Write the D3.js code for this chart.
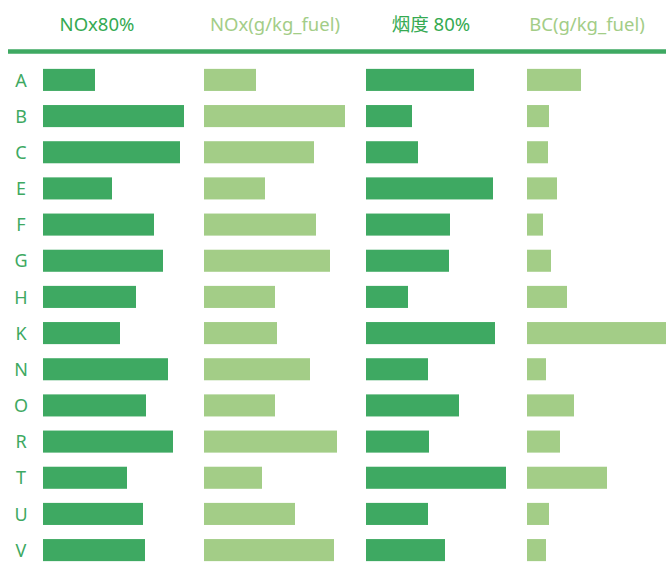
<!DOCTYPE html>
<html><head><meta charset="utf-8">
<script src="https://cdn.jsdelivr.net/npm/d3@7"></script>
<style>
html,body{margin:0;padding:0;background:#fff;}
svg{display:block;font-family:"Noto Sans","Noto Sans CJK SC",sans-serif;}
</style></head>
<body>
<svg id="chart" width="666" height="573"></svg>
<script>
// Categories (rows)
const categories = ["A","B","C","E","F","G","H","K","N","O","R","T","U","V"];
// Column headers
const headers = ["NOx80%","NOx(g/kg_fuel)","烟度 80%","BC(g/kg_fuel)"];
// Series values (relative units)
const nox80 = [52,141,137,69,111,120,93,77,125,103,130,84,100,102];
const noxFuel = [52,141,110,61,112,126,71,73,106,71,133,58,91,130];
const smoke80 = [108,46,52,127,84,83,42,129,62,93,63,140,62,79];
const bcFuel = [54,22,21,30,16,24,40,141,19,47,33,80,22,19];

const series = [nox80, noxFuel, smoke80, bcFuel];
const dark = "#3ea962", light = "#a3cd87";
const colColors = [dark, light, dark, light];
const headColors = ["#35aa52", light, "#35aa52", light];
const colX = [43, 204, 366, 527];
const headX = [97, 275, 431, 587];

const svg = d3.select("#chart");
const y = d3.scaleBand().domain(categories).range([62, 568]).paddingInner(0.39).paddingOuter(0.19);
const x = d3.scaleLinear().domain([0, 141]).range([0, 141]);

// headers
svg.selectAll("text.head").data(headers).join("text")
  .attr("class","head")
  .attr("x",(d,i)=>headX[i]).attr("y",31)
  .attr("text-anchor","middle")
  .attr("font-size",18.5)
  .attr("fill",(d,i)=>headColors[i])
  .text(d=>d);

// divider line
svg.append("line").attr("x1",8).attr("x2",666).attr("y1",51.5).attr("y2",51.5)
  .attr("stroke",dark).attr("stroke-width",4.5);

// row labels
svg.selectAll("text.row").data(categories).join("text")
  .attr("class","row")
  .attr("x",21).attr("y",d=>y(d)+y.bandwidth()/2)
  .attr("dy","0.37em")
  .attr("text-anchor","middle")
  .attr("font-size",18)
  .attr("fill",dark)
  .text(d=>d);

// bars
series.forEach((vals,ci)=>{
  svg.append("g").attr("transform",`translate(${colX[ci]},0)`)
    .selectAll("rect").data(vals).join("rect")
    .attr("x",0)
    .attr("y",(d,i)=>y(categories[i]))
    .attr("width",d=>x(d))
    .attr("height",y.bandwidth())
    .attr("fill",colColors[ci]);
});
</script>
</body></html>
